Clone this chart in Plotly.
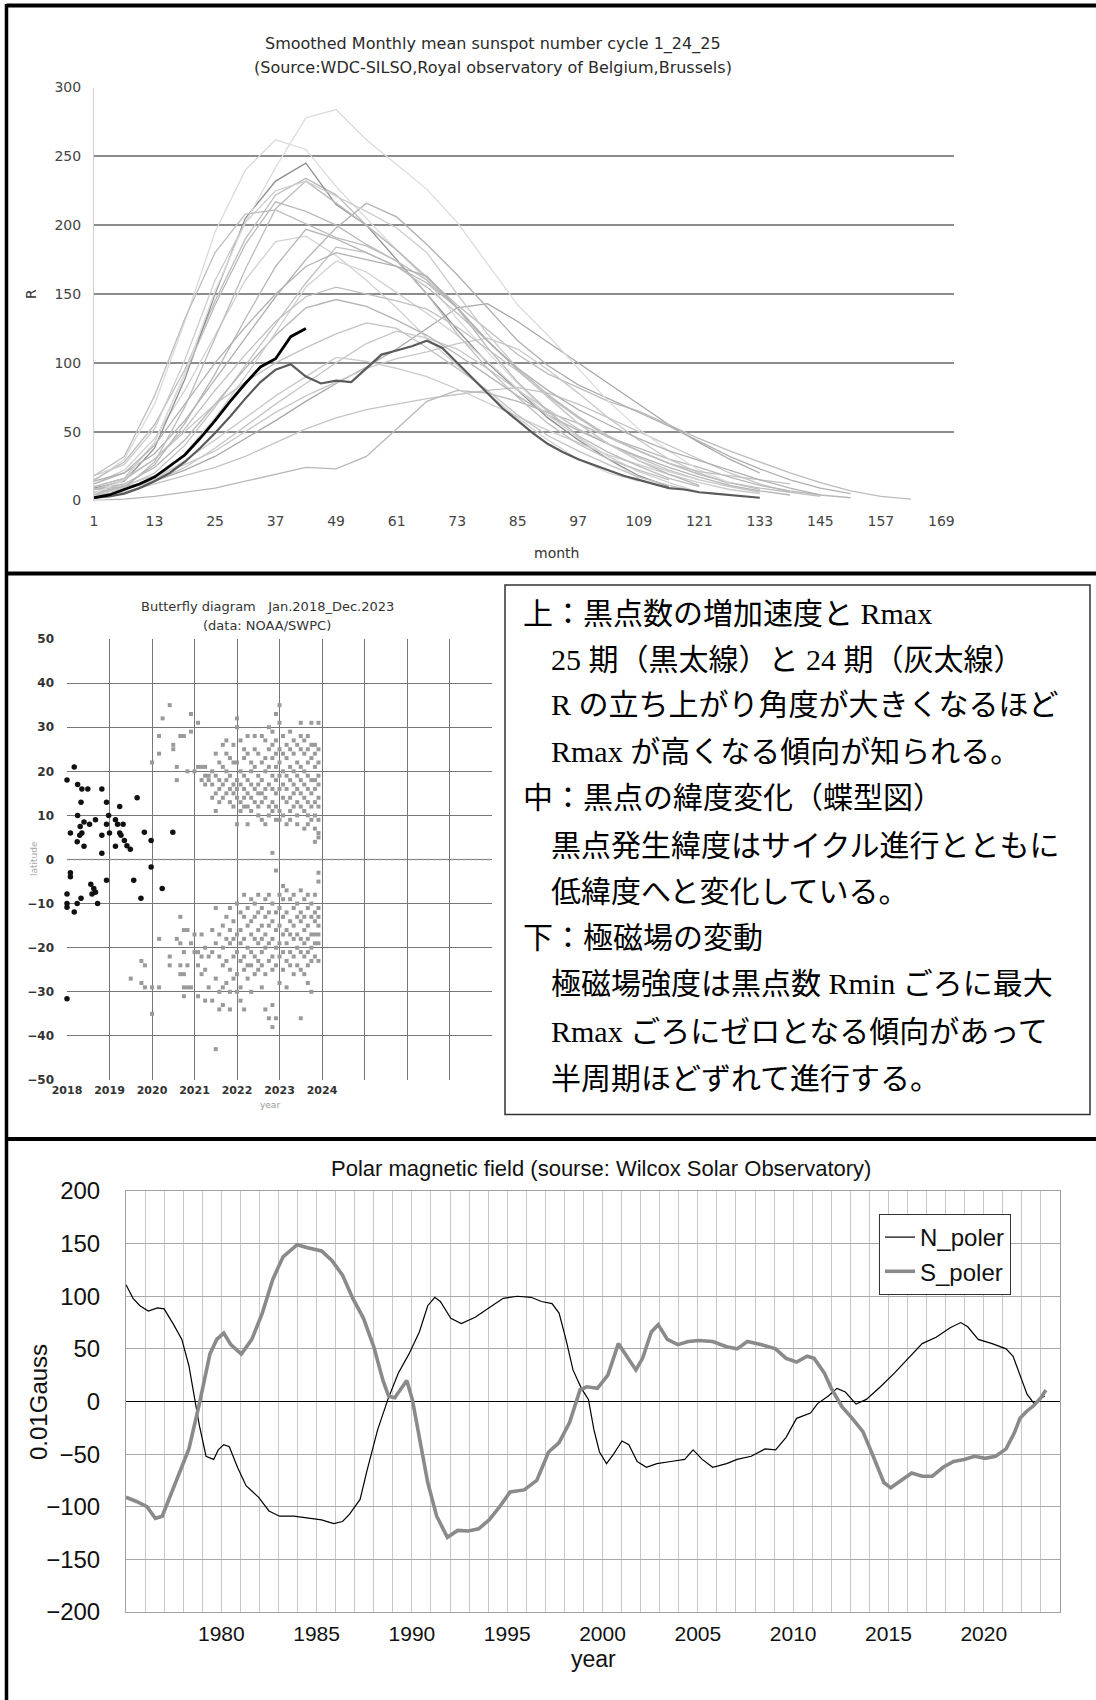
import plotly.graph_objects as go

W, H = 1096, 1700


def px(x):
    return x / W


def py(y):
    return 1 - y / H


# ---------------- top chart: smoothed monthly sunspot number per cycle ----------------
cycle_step = 6  # months between samples of the thin cycle curves (month 1, 7, 13, ...)
c01 = [8, 10, 14, 22, 32, 45, 58, 72, 85, 97, 110, 125, 140, 143, 130, 115, 100, 85, 70, 55, 42, 30, 20]
c02 = [12, 22, 45, 80, 120, 160, 188, 192, 178, 160, 140, 118, 98, 78, 60, 44, 30, 20, 14]
c03 = [14, 30, 70, 130, 195, 240, 262, 255, 228, 205, 182, 160, 132, 108, 85, 64, 45, 30, 16]
c04 = [15, 28, 55, 95, 145, 190, 222, 234, 222, 200, 182, 162, 142, 124, 106, 92, 82, 72, 65, 55, 45, 36, 28, 20, 13, 7, 3, 1]
c05 = [4, 6, 12, 18, 24, 32, 42, 52, 60, 66, 70, 74, 77, 80, 82, 78, 70, 60, 50, 40, 30, 20, 12, 6, 3]
c06 = [0, 1, 3, 6, 9, 14, 19, 24, 23, 32, 52, 72, 80, 78, 72, 64, 56, 46, 38, 30, 24, 17, 11, 7, 4, 2]
c07 = [8, 11, 18, 26, 36, 50, 64, 76, 86, 96, 103, 108, 114, 118, 110, 95, 78, 60, 44, 30, 20, 12]
c08 = [9, 14, 38, 88, 150, 205, 232, 245, 215, 200, 175, 150, 124, 100, 80, 60, 44, 30, 18, 10]
c09 = [14, 20, 34, 58, 88, 118, 148, 175, 198, 216, 206, 186, 164, 140, 116, 98, 84, 74, 64, 54, 43, 32, 23, 15, 9, 5]
c10 = [6, 10, 20, 40, 68, 98, 128, 158, 184, 180, 170, 155, 136, 116, 96, 77, 61, 47, 36, 27, 19, 13, 8]
c11 = [4, 9, 28, 68, 118, 168, 212, 232, 216, 200, 182, 162, 140, 116, 95, 76, 60, 46, 36, 27, 19, 13, 9, 6]
c12 = [5, 8, 14, 24, 38, 54, 70, 85, 100, 114, 123, 118, 110, 96, 80, 66, 52, 41, 31, 22, 15, 10, 6]
c13 = [8, 12, 24, 44, 70, 96, 120, 140, 146, 141, 131, 120, 106, 91, 76, 62, 51, 41, 32, 24, 17, 11, 7, 4]
c14 = [5, 8, 15, 29, 44, 60, 76, 90, 104, 101, 96, 90, 81, 71, 61, 51, 42, 33, 26, 19, 13, 8, 5]
c15 = [2, 5, 14, 34, 60, 90, 122, 155, 174, 166, 151, 136, 120, 101, 81, 62, 46, 32, 21, 13, 6]
c16 = [8, 15, 30, 50, 70, 86, 100, 111, 121, 129, 125, 111, 96, 80, 62, 47, 36, 26, 17, 11, 6]
c17 = [5, 10, 26, 56, 92, 132, 170, 197, 190, 180, 170, 158, 140, 116, 95, 75, 56, 41, 29, 19, 11]
c18 = [10, 16, 42, 92, 142, 186, 217, 210, 200, 186, 174, 160, 140, 111, 86, 65, 47, 35, 25, 16, 10]
c19 = [5, 15, 42, 92, 152, 202, 242, 278, 284, 262, 244, 226, 202, 172, 142, 120, 96, 72, 52, 36, 22, 13]
c20 = [10, 16, 30, 52, 80, 106, 130, 148, 155, 150, 145, 139, 126, 110, 94, 76, 61, 46, 36, 27, 21, 18, 15, 12]
c21 = [18, 26, 52, 102, 160, 202, 225, 232, 221, 210, 198, 180, 150, 121, 96, 75, 56, 41, 29, 21, 15]
c22 = [18, 32, 76, 132, 180, 208, 211, 201, 191, 185, 174, 150, 121, 96, 75, 56, 41, 30, 22, 15]
c23 = [12, 20, 40, 70, 100, 126, 150, 170, 180, 175, 170, 163, 140, 116, 96, 80, 66, 55, 45, 36, 29, 22, 15, 9, 4]

bold_step = 3  # months between samples of cycle 24 / 25
c24 = [2, 3, 5, 9, 14, 20, 28, 38, 49, 61, 74, 86, 95, 99, 90, 85, 87, 86, 96, 106, 109, 112, 116, 111,
       100, 89, 78, 67, 58, 49, 41, 35, 30, 26, 22, 18, 15, 12, 9, 8, 6, 5, 4, 3, 2]
c25 = [2, 4, 8, 12, 17, 25, 33, 45, 58, 72, 85, 97, 103, 119, 125]

month_ticks = [1, 13, 25, 37, 49, 61, 73, 85, 97, 109, 121, 133, 145, 157, 169]
r_ticks = [0, 50, 100, 150, 200, 250, 300]

thin_cycles = [c01, c02, c03, c04, c05, c06, c07, c08, c09, c10, c11, c12,
               c13, c14, c15, c16, c17, c18, c19, c20, c21, c22, c23]
thin_colors = ["#a8a8a8", "#d2d2d2", "#dadada", "#bdbdbd", "#c4c4c4", "#b8b8b8", "#c8c8c8", "#8e8e8e",
               "#b0b0b0", "#c0c0c0", "#bcbcbc", "#c6c6c6", "#b4b4b4", "#cacaca", "#d0d0d0", "#c2c2c2",
               "#b6b6b6", "#bababa", "#dcdcdc", "#c0c0c0", "#cccccc", "#bebebe", "#b2b2b2"]

# ---------------- middle chart: butterfly diagram ----------------
c24_year = [2018.0, 2018.17, 2018.08, 2018.25, 2018.25, 2018.35, 2018.49, 2018.33, 2018.31, 2018.35,
            2018.3, 2018.24, 2018.4, 2018.4, 2018.67, 2018.53, 2018.82, 2018.82, 2018.82, 2018.93,
            2018.93, 2018.98, 2019.0, 2019.14, 2019.14, 2019.24, 2019.19, 2019.32, 2019.24, 2019.27,
            2019.35, 2019.41, 2019.49, 2019.65, 2019.82, 2019.98, 2020.49,
            2018.08, 2018.08, 2018.0, 2018.0, 2018.0, 2018.17, 2018.24, 2018.33, 2018.56, 2018.63,
            2018.67, 2018.59, 2018.72, 2018.93, 2019.57, 2019.74, 2019.98, 2020.24, 2018.0]
c24_lat = [18, 21, 6, 10, 17, 16, 16, 13, 7.5, 6,
           5.5, 4, 3, 8.5, 9, 8, 16, 5.5, 1.4, 13,
           8, 10, 6, 9, 3, 12, 8, 8, 6, 5.5,
           4.3, 3.1, 2.3, 14, 6.2, 4.3, 6.2,
           -3, -3.9, -7.8, -10, -10.8, -11.9, -10, -8.8, -5.6, -6.6,
           -7.4, -7.8, -10, -4.7, -4.7, -8.8, -1.7, -6.6, -31.6]

c25n_month = [24, 26, 27, 29, 30, 31, 32, 33, 34, 35, 36, 37, 38, 39, 40, 41, 42, 43, 44, 45, 46, 47, 48,
              49, 50, 51, 52, 53, 54, 55, 56, 57, 58, 59, 60, 61, 62, 63, 64, 65, 66, 67, 68, 69, 70, 71]
c25n_lat = [[22], [28, 24], [32], [35], [25, 26], [21, 18], [28], [28], [20], [33, 29], [20], [31, 21],
            [21, 18], [21, 19, 17], [18, 19], [20, 17, 14], [24, 19, 15, 11], [22, 18, 16, 13],
            [26, 21, 17, 14], [27, 24, 20, 18, 15], [23, 19, 16, 13], [26, 22, 17, 15, 12],
            [32, 30, 22, 18, 16, 14, 8], [27, 20, 17, 13, 11], [25, 23, 19, 16, 14, 12],
            [28, 24, 18, 15, 12, 8], [22, 20, 17, 14, 11], [28, 25, 21, 16, 13], [24, 19, 17, 15, 12, 10],
            [28, 22, 18, 15, 13, 9], [27, 23, 20, 16, 14, 8], [30, 25, 21, 17, 12, 10],
            [29, 26, 23, 19, 16, 13, 11, 1.5], [33, 27, 24, 21, 18, 15, 12, 9],
            [35, 31, 25, 22, 19, 16, 11, 9], [28, 24, 20, 17, 14, 10], [26, 23, 19, 16, 13, 8],
            [29, 25, 21, 18, 14, 11, 9], [27, 24, 20, 17, 15, 12], [26, 22, 19, 16, 13, 10, 8],
            [31, 28, 25, 21, 18, 15, 12], [27, 24, 20, 17, 14, 11, 7], [28, 25, 22, 19, 16, 13, 10, 8],
            [31, 26, 23, 18, 15, 12, 9], [26, 24, 21, 18, 16, 13, 10, 7, 4],
            [31, 25, 22, 19, 17, 14, 12, 9, 6, 5]]

c25s_month = [18, 21, 22, 24, 26, 29, 31, 32, 33, 34, 35, 36, 37, 38, 39, 40, 41, 42, 43, 44, 45, 46, 47,
              48, 49, 50, 51, 52, 53, 54, 55, 56, 57, 58, 59, 60, 61, 62, 63, 64, 65, 66, 67, 68, 69, 70, 71]
c25s_lat = [[-27], [-23, -28], [-24, -29], [-29, -35], [-18, -29], [-22, -24], [-18],
            [-13, -19, -24, -26], [-16, -21, -26, -29, -31], [-16, -24, -29], [-19, -29], [-17, -21],
            [-21, -24, -31], [-17, -22, -26], [-20, -25, -32], [-22, -29], [-16, -21, -32],
            [-11, -19, -27, -43], [-17, -22, -30, -34], [-15, -20, -24, -29, -33], [-13, -18, -23, -28],
            [-11, -16, -19, -25, -30, -34], [-14, -18, -22, -27], [-10, -17, -21, -26, -30],
            [-12, -16, -19, -23, -29, -32], [-8, -13, -18, -22, -25, -34], [-11, -15, -20, -24, -27],
            [-9, -14, -17, -21, -24, -30], [-10, -13, -18, -22, -26], [-8, -12, -16, -19, -23, -25],
            [-11, -15, -18, -21, -24, -29], [-9, -13, -17, -20, -26, -34], [-8, -12, -15, -19, -23, -36],
            [-10, -14, -18, -22, -25, -33, -38], [-2.5, -12, -16, -20, -24, -36], [-8, -11, -15, -19, -22, -28],
            [-6, -9, -13, -17, -21, -25], [-7, -12, -16, -19, -23, -29], [-9, -14, -17, -21, -24],
            [-8, -11, -15, -18, -22, -26], [-10, -13, -17, -20, -24], [-7, -12, -14, -18, -21, -25, -36],
            [-9, -13, -16, -19, -22, -26], [-8, -11, -15, -18, -21, -24, -28], [-10, -13, -17, -20, -23, -30],
            [-8, -12, -14, -17, -19, -22], [-3, -5, -11, -13, -15, -17, -19, -23]]

bf_year_ticks = [2018, 2019, 2020, 2021, 2022, 2023, 2024, 2025, 2026, 2027, 2028]
bf_year_labels = ["2018", "2019", "2020", "2021", "2022", "2023", "2024", "", "", "", ""]
bf_lat_ticks = [-50, -40, -30, -20, -10, 0, 10, 20, 30, 40, 50]
bf_base_year = 2018

# ---------------- bottom chart: polar magnetic field ----------------
n_year = [1975.0, 1975.37, 1975.73, 1976.17, 1976.65, 1977.0, 1977.5, 1977.93, 1978.3, 1978.6, 1978.85,
          1979.2, 1979.6, 1979.84, 1980.13, 1980.42, 1980.86, 1981.3, 1981.96, 1982.5, 1983.06, 1983.8,
          1984.53, 1985.26, 1985.9, 1986.36, 1986.73, 1987.28, 1987.64, 1988.2, 1988.74, 1989.29,
          1989.84, 1990.39, 1990.83, 1991.2, 1991.49, 1992.04, 1992.59, 1993.32, 1994.05, 1994.79,
          1995.52, 1996.25, 1996.8, 1997.35, 1997.72, 1998.08, 1998.45, 1998.89, 1999.26, 1999.55,
          1999.84, 2000.21, 2000.58, 2001.02, 2001.38, 2001.82, 2002.3, 2002.85, 2003.58, 2004.31,
          2004.75, 2005.23, 2005.78, 2006.51, 2007.06, 2007.8, 2008.53, 2009.08, 2009.63, 2010.18,
          2010.91, 2011.28, 2011.83, 2012.3, 2012.74, 2013.3, 2013.84, 2014.58, 2015.31, 2016.04,
          2016.77, 2017.5, 2018.24, 2018.79, 2019.16, 2019.71, 2020.44, 2021.17, 2021.54, 2021.72,
          2021.98, 2022.27, 2022.64, 2023.0, 2023.2]
n_val = [111, 98, 91, 86, 89, 88, 73, 59, 34, 5, -23,
         -52, -55, -46, -41, -43, -63, -80, -91, -104, -109, -109,
         -111, -112.5, -116, -114, -107, -93, -66, -27, 2, 27,
         45, 66, 91, 99, 95, 79, 74, 80, 89, 98,
         100, 99, 95, 93, 84, 59, 30, 12.5, 2, -27,
         -48, -59, -50, -37.5, -41, -57, -62.5, -59, -57, -55,
         -46, -55, -62.5, -59, -55, -52, -45, -46, -34, -16,
         -11, -2, 5, 12.5, 9, -2.5, 2, 14, 27, 41,
         55, 61, 70, 75, 71, 59, 55, 50, 43, 34,
         21, 7, -2, 3.6, 5]

s_year = [1975.0, 1975.55, 1976.1, 1976.54, 1976.9, 1977.38, 1977.93, 1978.3, 1978.85, 1979.4, 1979.76,
          1980.13, 1980.5, 1981.05, 1981.6, 1982.15, 1982.7, 1983.24, 1983.98, 1984.53, 1985.26, 1985.8,
          1986.36, 1986.9, 1987.46, 1988.0, 1988.48, 1988.78, 1989.1, 1989.47, 1989.73, 1990.02, 1990.39,
          1990.83, 1991.3, 1991.86, 1992.4, 1992.96, 1993.5, 1994.05, 1994.6, 1995.15, 1995.89, 1996.55,
          1997.17, 1997.72, 1998.27, 1998.82, 1999.18, 1999.73, 2000.28, 2000.83, 2001.2, 2001.75, 2002.1,
          2002.56, 2002.92, 2003.4, 2003.95, 2004.5, 2005.05, 2005.78, 2006.51, 2007.06, 2007.6, 2008.35,
          2009.08, 2009.63, 2010.18, 2010.73, 2011.1, 2011.64, 2012.0, 2012.56, 2013.1, 2013.66, 2014.2,
          2014.76, 2015.12, 2015.67, 2016.22, 2016.77, 2017.3, 2017.87, 2018.42, 2018.97, 2019.52,
          2020.07, 2020.62, 2021.17, 2021.6, 2021.9, 2022.27, 2022.64, 2023.0, 2023.26]
s_val = [-91, -95, -100, -111, -109, -87.5, -62.5, -45, -2, 45, 59,
         65, 54, 45, 59, 84, 116, 137.5, 149, 146, 143, 134,
         120, 98, 79, 52, 20, 5, 3.6, 14, 20, 2, -34,
         -77, -109, -129, -122.5, -123, -121, -112.5, -100, -86, -84, -75,
         -48, -39, -20, 11, 14, 12.5, 25, 55, 45, 30, 41,
         66, 73, 59, 54, 57, 58, 57, 52, 50, 57, 54,
         50, 41, 37.5, 43, 41, 27, 12.5, -5, -16, -28.6, -52,
         -77, -82, -75, -68, -71, -71, -62.5, -57, -55, -52,
         -54, -52, -45, -30, -16, -9, -3.6, 3.6, 11]

pm_year_ticks = list(range(1975, 2025))
pm_year_labels = [str(y) if (y % 5 == 0 and y >= 1980) else "" for y in pm_year_ticks]
pm_val_ticks = [-200, -150, -100, -50, 0, 50, 100, 150, 200]

# ---------------- figure ----------------
fig = go.Figure()

# top chart traces
for cyc, col in zip(thin_cycles, thin_colors):
    fig.add_trace(go.Scatter(x=[1 + cycle_step * i for i in range(len(cyc))], y=cyc, mode="lines",
                             line=dict(color=col, width=1.3), xaxis="x", yaxis="y", showlegend=False,
                             hoverinfo="skip"))
fig.add_trace(go.Scatter(x=[1 + bold_step * i for i in range(len(c24))], y=c24, mode="lines",
                         line=dict(color="#5a5a5a", width=2.2), xaxis="x", yaxis="y", showlegend=False))
fig.add_trace(go.Scatter(x=[1 + bold_step * i for i in range(len(c25))], y=c25, mode="lines",
                         line=dict(color="#000000", width=2.8), xaxis="x", yaxis="y", showlegend=False))

# butterfly traces
gx, gy = [], []
for m, lats in zip(c25n_month + c25s_month, c25n_lat + c25s_lat):
    for lat in lats:
        gx.append(bf_base_year + m / 12)
        gy.append(lat)
fig.add_trace(go.Scatter(x=gx, y=gy, mode="markers", xaxis="x2", yaxis="y2", showlegend=False,
                         cliponaxis=False,
                         marker=dict(symbol="square", size=4, color="#9a9a9a", line=dict(width=0))))
fig.add_trace(go.Scatter(x=c24_year, y=c24_lat, mode="markers", xaxis="x2", yaxis="y2", showlegend=False,
                         cliponaxis=False,
                         marker=dict(symbol="circle", size=5.5, color="#111111", line=dict(width=0))))

# polar field traces
fig.add_trace(go.Scatter(x=n_year, y=n_val, mode="lines", name="N_poler", xaxis="x3", yaxis="y3",
                         line=dict(color="#000000", width=1.2)))
fig.add_trace(go.Scatter(x=s_year, y=s_val, mode="lines", name="S_poler", xaxis="x3", yaxis="y3",
                         line=dict(color="#8a8a8a", width=3.6)))

top_font = dict(family="DejaVu Sans", size=14, color="#444444")
bf_font = dict(family="DejaVu Sans", size=12, color="#333333", weight="bold")
pm_font = dict(family="Liberation Sans, Arial", size=24, color="#111111")

fig.update_layout(
    width=W, height=H, autosize=False,
    margin=dict(l=0, r=0, t=0, b=0, pad=0, autoexpand=False),
    paper_bgcolor="white", plot_bgcolor="white",
    xaxis=dict(domain=[px(94), px(954)], range=[1, 171.5], anchor="y", automargin=False,
               tickmode="array", tickvals=month_ticks, showgrid=False, zeroline=False,
               showline=False, ticks="", tickfont=top_font, ticklabelstandoff=10),
    yaxis=dict(domain=[py(500.5), py(87.5)], range=[0, 300], anchor="x", automargin=False,
               tickmode="array", tickvals=r_ticks, showgrid=True, gridcolor="#8c8c8c", gridwidth=1.5,
               zeroline=False, showline=True, linecolor="#d0d0d0", linewidth=1, ticks="",
               tickfont=top_font, ticklabelstandoff=9),
    xaxis2=dict(domain=[px(67), px(492)], range=[2018, 2028], anchor="y2", automargin=False,
                tickmode="array", tickvals=bf_year_ticks, ticktext=bf_year_labels,
                showgrid=True, gridcolor="#767676", gridwidth=1, zeroline=False, showline=False,
                ticks="", tickfont=dict(family="DejaVu Sans", size=11, color="#333333", weight="bold"),
                ticklabelstandoff=2),
    yaxis2=dict(domain=[py(1080), py(639)], range=[-50, 50], anchor="x2", automargin=False,
                tickmode="array", tickvals=bf_lat_ticks,
                showgrid=True, gridcolor="#767676", gridwidth=1, zeroline=False, showline=False,
                ticks="", tickfont=bf_font, ticklabelstandoff=12),
    xaxis3=dict(domain=[px(126), px(1060)], range=[1975, 2024], anchor="y3", automargin=False,
                tickmode="array", tickvals=pm_year_ticks, ticktext=pm_year_labels,
                showgrid=True, gridcolor="#c8c8c8", gridwidth=1, zeroline=False,
                showline=True, linecolor="#a0a0a0", mirror=True, ticks="",
                tickfont=dict(family="Liberation Sans, Arial", size=21, color="#111111"),
                ticklabelstandoff=3),
    yaxis3=dict(domain=[py(1612), py(1191)], range=[-200, 200], anchor="x3", automargin=False,
                tickmode="array", tickvals=pm_val_ticks, showgrid=True, gridcolor="#a8a8a8", gridwidth=1,
                zeroline=True, zerolinecolor="#000000", zerolinewidth=1.2,
                showline=True, linecolor="#a0a0a0", mirror=True, ticks="",
                tickfont=pm_font, ticklabelstandoff=20),
    showlegend=True,
    legend=dict(x=px(879), y=py(1214), xanchor="left", yanchor="top", bgcolor="white",
                bordercolor="#333333", borderwidth=1, font=dict(family="Liberation Sans, Arial", size=24,
                                                                  color="#111111"),
                tracegroupgap=0, itemwidth=30),
)

shapes = []
# frame / dividers
shapes.append(dict(type="line", xref="paper", yref="paper", x0=px(6.5), x1=1, y0=py(5.5), y1=py(5.5),
                   line=dict(color="black", width=4)))
shapes.append(dict(type="line", xref="paper", yref="paper", x0=px(6.5), x1=px(6.5), y0=py(4), y1=0,
                   line=dict(color="black", width=3.5)))
shapes.append(dict(type="line", xref="paper", yref="paper", x0=px(6.5), x1=1, y0=py(573.5), y1=py(573.5),
                   line=dict(color="black", width=4)))
shapes.append(dict(type="line", xref="paper", yref="paper", x0=px(6.5), x1=1, y0=py(1139), y1=py(1139),
                   line=dict(color="black", width=4)))
# text box
shapes.append(dict(type="rect", xref="paper", yref="paper", x0=px(505), x1=px(1090), y0=py(1114.5),
                   y1=py(585), line=dict(color="#333333", width=1.5), fillcolor="rgba(0,0,0,0)"))
# butterfly dotted equator
shapes.append(dict(type="line", xref="x2", yref="y2", x0=2018, x1=2028, y0=0, y1=0,
                   line=dict(color="#9a9a9a", width=1.5, dash="dot")))
fig.update_layout(shapes=shapes)

ann = []
# top chart titles
ann.append(dict(xref="paper", yref="paper", x=px(493), y=py(44), text="Smoothed Monthly mean sunspot number cycle 1_24_25",
                showarrow=False, xanchor="center", yanchor="middle",
                font=dict(family="DejaVu Sans", size=16, color="#2a2a2a")))
ann.append(dict(xref="paper", yref="paper", x=px(493), y=py(67),
                text="(Source:WDC-SILSO,Royal observatory of Belgium,Brussels)",
                showarrow=False, xanchor="center", yanchor="middle",
                font=dict(family="DejaVu Sans", size=16, color="#2a2a2a")))
ann.append(dict(xref="paper", yref="paper", x=px(31), y=py(294), text="R", textangle=-90, showarrow=False,
                xanchor="center", yanchor="middle", font=dict(family="DejaVu Sans", size=14, color="#333333")))
ann.append(dict(xref="paper", yref="paper", x=px(556), y=py(553), text="month", showarrow=False,
                xanchor="center", yanchor="middle", font=dict(family="DejaVu Sans", size=14, color="#333333")))
# butterfly titles
ann.append(dict(xref="paper", yref="paper", x=px(267), y=py(606),
                text="Butterfly diagram\u00a0\u00a0\u00a0Jan.2018_Dec.2023", showarrow=False,
                xanchor="center", yanchor="middle", font=dict(family="DejaVu Sans", size=13, color="#333333")))
ann.append(dict(xref="paper", yref="paper", x=px(267), y=py(625), text="(data: NOAA/SWPC)", showarrow=False,
                xanchor="center", yanchor="middle", font=dict(family="DejaVu Sans", size=13, color="#333333")))
ann.append(dict(xref="paper", yref="paper", x=px(34), y=py(859), text="latitude", textangle=-90,
                showarrow=False, xanchor="center", yanchor="middle",
                font=dict(family="DejaVu Sans", size=9, color="#aaaaaa")))
ann.append(dict(xref="paper", yref="paper", x=px(270), y=py(1105), text="year", showarrow=False,
                xanchor="center", yanchor="middle", font=dict(family="DejaVu Sans", size=9, color="#999999")))
# bottom chart titles
ann.append(dict(xref="paper", yref="paper", x=px(601), y=py(1168),
                text="Polar magnetic field (sourse: Wilcox Solar Observatory)", showarrow=False,
                xanchor="center", yanchor="middle", font=dict(family="Liberation Sans, Arial", size=22,
                                                              color="#111111")))
ann.append(dict(xref="paper", yref="paper", x=px(38), y=py(1402), text="0.01Gauss", textangle=-90,
                showarrow=False, xanchor="center", yanchor="middle",
                font=dict(family="Liberation Sans, Arial", size=24, color="#111111")))
ann.append(dict(xref="paper", yref="paper", x=px(593), y=py(1659), text="year", showarrow=False,
                xanchor="center", yanchor="middle", font=dict(family="Liberation Sans, Arial", size=23,
                                                              color="#111111")))

# explanatory text box
box_lines = [
    ("上：黒点数の増加速度と Rmax", 521, 613),
    ("25 期（黒太線）と 24 期（灰太線）", 549, 659.5),
    ("R の立ち上がり角度が大きくなるほど", 549, 704.5),
    ("Rmax が高くなる傾向が知られる。", 549, 751),
    ("中：黒点の緯度変化（蝶型図）", 521, 797.5),
    ("黒点発生緯度はサイクル進行とともに", 549, 845.5),
    ("低緯度へと変化している。", 549, 892),
    ("下：極磁場の変動", 521, 937),
    ("極磁場強度は黒点数 Rmin ごろに最大", 549, 983),
    ("Rmax ごろにゼロとなる傾向があって", 549, 1031),
    ("半周期ほどずれて進行する。", 549, 1078),
]
for txt, x0, y0 in box_lines:
    ann.append(dict(xref="paper", yref="paper", x=px(x0), y=py(y0), text=txt, showarrow=False,
                    xanchor="left", yanchor="middle",
                    font=dict(family="Liberation Serif, Noto Sans CJK JP", size=30, color="#000000")))

fig.update_layout(annotations=ann)

fig.write_html("out.html", config={"displayModeBar": False},
               post_script="document.body.style.margin='0px';document.body.style.padding='0px';")
